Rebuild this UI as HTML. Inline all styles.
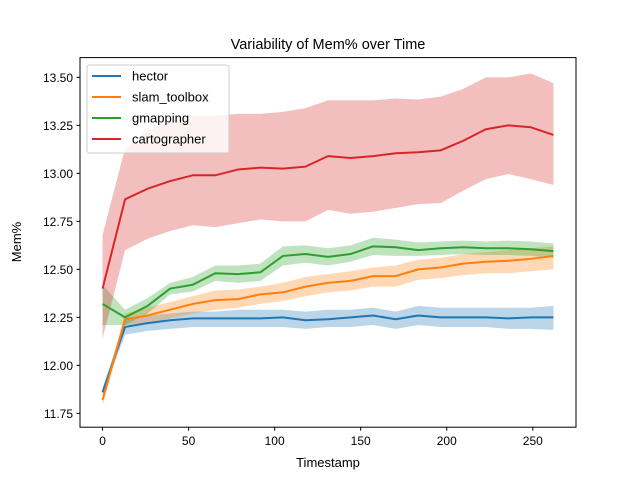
<!DOCTYPE html>
<html><head><meta charset="utf-8"><style>
body{margin:0;background:#fff}
svg{display:block;font-family:"Liberation Sans","DejaVu Sans",sans-serif}
</style></head><body>
<svg id="chart" width="640" height="480">
<rect width="640" height="480" fill="#fff"/>
<text x="328" y="49" text-anchor="middle" font-size="14.5">Variability of Mem% over Time</text>
<g id="bands"></g><g id="lines"></g>
<rect x="80" y="57.6" width="496" height="369.6" fill="none" stroke="#000" stroke-width="1"/>
<g id="ticks" font-size="12"></g>
<text x="328" y="467" text-anchor="middle" font-size="13">Timestamp</text>
<text transform="translate(21,242) rotate(-90)" text-anchor="middle" font-size="13">Mem%</text>
<g id="legend"></g>
</svg>
<script>
const xValues=[0,13.1,26.2,39.3,52.4,65.5,78.6,91.7,104.8,117.9,131,144.1,157.2,170.3,183.4,196.5,209.6,222.7,235.8,248.9,262];
const seriesNames=["hector","slam_toolbox","gmapping","cartographer"];
const seriesColors=["#1f77b4","#ff7f0e","#2ca02c","#d62728"];
const hectorMean=[11.86,12.20,12.22,12.235,12.245,12.245,12.245,12.245,12.25,12.235,12.24,12.25,12.26,12.24,12.26,12.25,12.25,12.25,12.245,12.25,12.25];
const hectorLow=[11.84,12.16,12.18,12.19,12.20,12.20,12.20,12.20,12.20,12.19,12.20,12.20,12.21,12.19,12.21,12.20,12.20,12.20,12.19,12.19,12.185];
const hectorHigh=[11.88,12.24,12.26,12.27,12.28,12.28,12.29,12.29,12.29,12.28,12.29,12.29,12.30,12.28,12.31,12.30,12.30,12.30,12.30,12.30,12.31];
const slamMean=[11.82,12.24,12.26,12.29,12.32,12.34,12.345,12.37,12.38,12.41,12.43,12.44,12.465,12.465,12.50,12.51,12.53,12.54,12.545,12.555,12.57];
const slamLow=[11.79,12.21,12.22,12.245,12.27,12.29,12.30,12.32,12.335,12.36,12.38,12.39,12.41,12.41,12.445,12.455,12.47,12.48,12.48,12.49,12.50];
const slamHigh=[11.85,12.27,12.30,12.33,12.36,12.39,12.395,12.41,12.43,12.46,12.475,12.49,12.51,12.52,12.55,12.56,12.58,12.59,12.60,12.61,12.62];
const gmapMean=[12.32,12.25,12.31,12.40,12.42,12.48,12.475,12.485,12.57,12.58,12.565,12.58,12.62,12.615,12.60,12.61,12.615,12.61,12.61,12.605,12.595];
const gmapLow=[12.21,12.21,12.27,12.37,12.385,12.44,12.43,12.44,12.52,12.535,12.52,12.54,12.575,12.57,12.57,12.575,12.58,12.575,12.575,12.57,12.56];
const gmapHigh=[12.42,12.29,12.35,12.43,12.46,12.52,12.52,12.53,12.62,12.625,12.61,12.625,12.665,12.655,12.64,12.645,12.65,12.645,12.65,12.645,12.635];
const cartoMean=[12.40,12.865,12.92,12.96,12.99,12.99,13.02,13.03,13.025,13.035,13.09,13.08,13.09,13.105,13.11,13.12,13.17,13.23,13.25,13.24,13.20];
const cartoLow=[12.14,12.60,12.66,12.70,12.73,12.72,12.74,12.76,12.75,12.75,12.81,12.79,12.80,12.82,12.84,12.845,12.91,12.97,12.997,12.97,12.94];
const cartoHigh=[12.68,13.13,13.22,13.27,13.30,13.30,13.31,13.31,13.32,13.34,13.38,13.38,13.38,13.39,13.385,13.40,13.44,13.50,13.50,13.52,13.47];
const xTicks=[0,50,100,150,200,250];
const yTicks=[11.75,12.00,12.25,12.50,12.75,13.00,13.25,13.50];
const yTickLabels=["11.75","12.00","12.25","12.50","12.75","13.00","13.25","13.50"];

const NS="http://www.w3.org/2000/svg";
const X0=80,X1=576,Y0=57.6,Y1=427.2,xmin=-13.1,xmax=275.1,ymin=11.678,ymax=13.603;
const sx=v=>X0+(v-xmin)/(xmax-xmin)*(X1-X0);
const sy=v=>Y1-(v-ymin)/(ymax-ymin)*(Y1-Y0);
function mk(t,a,p){const e=document.createElementNS(NS,t);for(const k in a)e.setAttribute(k,a[k]);p.appendChild(e);return e;}
const means=[hectorMean,slamMean,gmapMean,cartoMean],lows=[hectorLow,slamLow,gmapLow,cartoLow],highs=[hectorHigh,slamHigh,gmapHigh,cartoHigh];
const bands=document.getElementById('bands'),lines=document.getElementById('lines');
for(let s=0;s<4;s++){
  let d=xValues.map((x,i)=>(i?'L':'M')+sx(x)+','+sy(highs[s][i])).join('');
  for(let i=xValues.length-1;i>=0;i--)d+='L'+sx(xValues[i])+','+sy(lows[s][i]);
  const b=mk('path',{d:d+'Z',fill:seriesColors[s],'fill-opacity':0.3,stroke:'none'},bands);
  
  
}
for(let s=0;s<4;s++){
  const pts=xValues.map((x,i)=>sx(x)+','+sy(means[s][i])).join(' ');
  const l=mk('polyline',{points:pts,fill:'none',stroke:seriesColors[s],'stroke-width':2,'stroke-linejoin':'round'},lines);
  
  
}
const tk=document.getElementById('ticks');
xTicks.forEach(v=>{
  mk('line',{x1:sx(v),x2:sx(v),y1:Y1,y2:Y1+3.5,stroke:'#000'},tk);
  const t=mk('text',{x:sx(v),y:Y1+18,'text-anchor':'middle'},tk);t.textContent=v;
  
  
});
yTicks.forEach((v,i)=>{
  mk('line',{x1:X0-3.5,x2:X0,y1:sy(v),y2:sy(v),stroke:'#000'},tk);
  const t=mk('text',{x:X0-7,y:sy(v)+4.5,'text-anchor':'end'},tk);t.textContent=yTickLabels[i];
  
  
});
const lg=document.getElementById('legend');
const box=mk('rect',{x:87,y:65,width:142,height:88,rx:2.5,fill:'#fff','fill-opacity':0.8,stroke:'#ccc'},lg);


seriesNames.forEach((n,i)=>{
  const y=76+i*21;
  mk('line',{x1:92,x2:121,y1:y,y2:y,stroke:seriesColors[i],'stroke-width':2},lg);
  const t=mk('text',{x:132,y:y+4.5,'font-size':13},lg);t.textContent=n;
  
  
});
</script>
</body></html>
